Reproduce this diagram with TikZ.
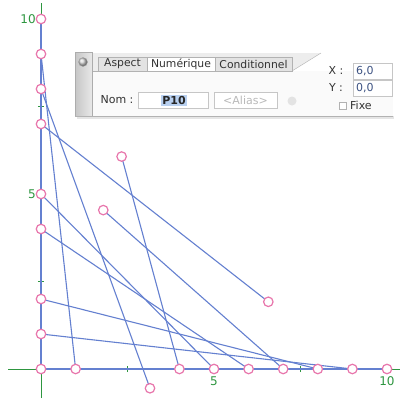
\documentclass[tikz,border=0pt]{standalone}
\usepackage{fontspec}
\setmainfont{DejaVu Sans}
\definecolor{pk}{RGB}{232,118,172}
\definecolor{bl}{RGB}{100,128,208}
\definecolor{gr}{RGB}{46,150,64}
\definecolor{hl}{RGB}{184,208,240}
\definecolor{numc}{RGB}{60,82,130}
\begin{document}
\begin{tikzpicture}[x=1pt,y=-1pt,
  pt/.style={circle,draw=pk,fill=white,line width=1.2pt,minimum size=9.5pt,inner sep=0pt},
  seg/.style={draw=bl,line width=1.1pt},
  axisg/.style={draw=gr,line width=1pt},
  lab/.style={text=gr,font=\fontsize{12}{13}\selectfont,inner sep=1pt},
  ptxt/.style={font=\fontsize{11}{13}\selectfont,text=black!80,inner sep=0pt},
  tabbox/.style={draw=gray!60,fill=gray!22,minimum height=14pt,inner sep=0pt,font=\fontsize{10.8}{12}\selectfont,text=black!80},
  field/.style={draw=gray!45,fill=white,minimum height=16pt,inner sep=0pt,font=\fontsize{11}{13}\selectfont}]
\useasboundingbox (0,0) rectangle (400,399);
\fill[white] (0,0) rectangle (400,399);

% ---------------- diagram ----------------
\begin{scope}[shift={(41,369)},x=34.6pt,y=35pt]
  \draw[axisg] (-0.95,0) -- (10.4,0);
  \draw[axisg] (0,-0.83) -- (0,10.45);
  \foreach \t in {2.5,5,7.5,10}{
    \draw[gr,line width=0.8pt] (\t,-0.09) -- (\t,0.09);
    \draw[gr,line width=0.8pt] (-0.09,\t) -- (0.09,\t);
  }
  \node[lab,anchor=east] (l10y) at (-0.12,10) {10};
  \node[lab,anchor=east] (l5y) at (-0.12,5) {5};
  \node[lab,anchor=north] (l5x) at (5,-0.18) {5};
  \node[lab,anchor=north] (l10x) at (10,-0.18) {10};

  \coordinate (O) at (0,0);
  \foreach \k in {1,2,4,5,7,8,9,10}{\coordinate (Y\k) at (0,\k);}
  \foreach \k in {1,4,5,6,7,8,9,10}{\coordinate (X\k) at (\k,0);}
  \coordinate (A) at (2.33,6.07);
  \coordinate (B) at (3.15,-0.55);
  \coordinate (C) at (1.80,4.54);
  \coordinate (D) at (6.57,1.92);

  \draw[seg] (O) -- (Y10);
  \draw[seg] (O) -- (X10);
  \draw[seg] (Y9) -- (X1);
  \draw[seg] (Y8) -- (B);
  \draw[seg] (Y7) -- (D);
  \draw[seg] (A) -- (X4);
  \draw[seg] (Y5) -- (X5);
  \draw[seg] (Y4) -- (X6);
  \draw[seg] (C) -- (X7);
  \draw[seg] (Y2) -- (X8);
  \draw[seg] (Y1) -- (X9);

  \node[pt] (pO) at (O) {};
  \foreach \k in {1,2,4,5,7,8,9,10}{\node[pt] (pY\k) at (Y\k) {};}
  \foreach \k in {1,4,5,6,7,8,9,10}{\node[pt] (pX\k) at (X\k) {};}
  \node[pt] (pA) at (A) {};
  \node[pt] (pB) at (B) {};
  \node[pt] (pC) at (C) {};
  \node[pt] (pD) at (D) {};
\end{scope}

% ---------------- panel ----------------
\fill[black!10] (77,116) rectangle (394,119);
\fill[gray!4] (92,71) rectangle (393,116);
\fill[gray!14] (92,53) -- (321,53) -- (292,71) -- (92,71) -- cycle;
\draw[gray!60] (292,71) -- (321,53);
\draw[gray!60] (92,71) -- (292,71);
\shade[left color=gray!45,right color=gray!18] (75,52) rectangle (92,116);
\draw[gray!65] (75,52) rectangle (92,116);
\draw[gray!60,line width=1pt] (75,116) -- (393,116);
\shade[ball color=gray!35] (83,62) circle (4.5);
\node[circle,draw=gray!70,minimum size=9pt,inner sep=0pt] (btn) at (83,62) {};

\node[tabbox,minimum width=49pt] (tabA) at (122.5,64) {Aspect};
\node[tabbox,minimum width=68pt,fill=white] (tabN) at (181,64) {Numérique};
\node[tabbox,minimum width=77pt] (tabC) at (253.5,64) {Conditionnel};

\node[ptxt] (nom) at (117,100) {Nom :};
\node[field,minimum width=70pt] (nomf) at (173,100.5) {};
\node[fill=hl,inner sep=1.5pt,font=\fontsize{11}{13}\selectfont\bfseries,text=black!85] (p10) at (174,100.5) {P10};
\node[field,minimum width=63pt,text=gray!55] (alias) at (245.5,100.5) {<Alias>};
\node[circle,fill=gray!22,minimum size=9pt,inner sep=0pt] (abtn) at (292,101) {};

\node[ptxt] (xl) at (336,70.5) {X :};
\node[field,minimum width=39pt,minimum height=16pt] (xf) at (372.5,71) {};
\node[ptxt,anchor=west,text=numc] (xv) at (356,71) {6,0};
\node[ptxt] (yl) at (336,87.5) {Y :};
\node[field,minimum width=39pt,minimum height=16pt] (yf) at (372.5,88) {};
\node[ptxt,anchor=west,text=numc] (yv) at (356,88) {0,0};
\node[draw=gray!60,fill=white,minimum size=7pt,inner sep=0pt] (chk) at (343,105.5) {};
\node[ptxt,anchor=west] (fixe) at (350,105.5) {Fixe};
\end{tikzpicture}
\end{document}
